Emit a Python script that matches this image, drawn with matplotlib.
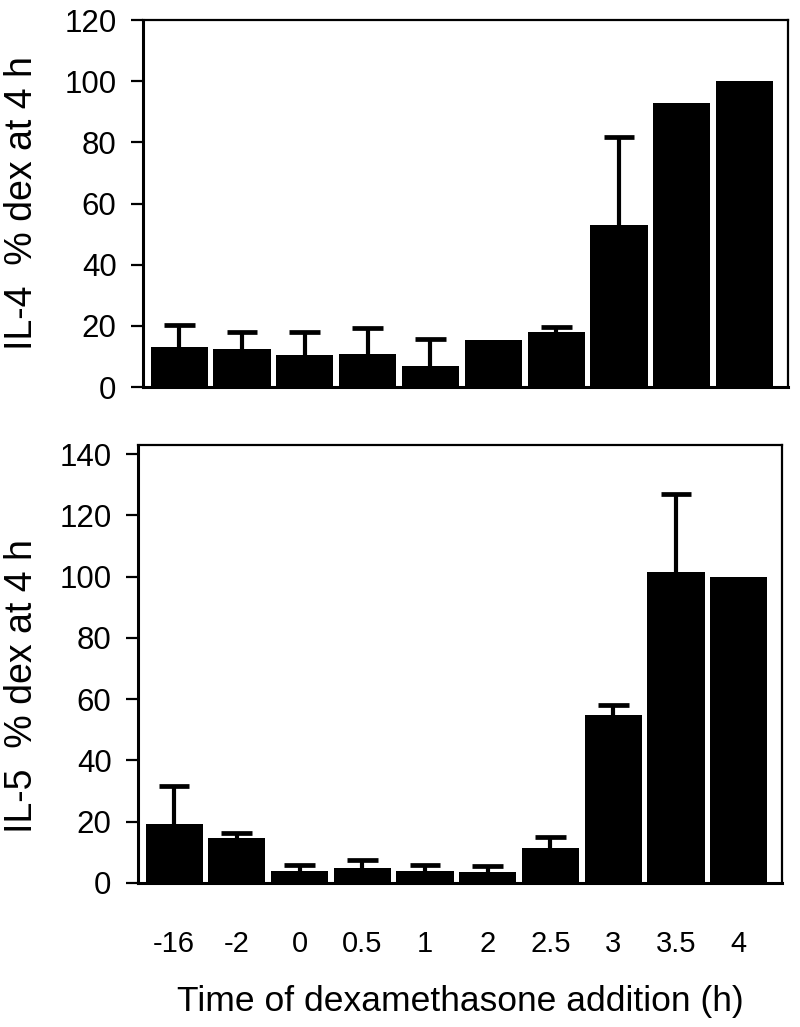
import matplotlib
matplotlib.use("Agg")
import matplotlib.pyplot as plt
import numpy as np

plt.rcParams['font.family'] = ['Liberation Sans', 'DejaVu Sans']

categories = ["-16", "-2", "0", "0.5", "1", "2", "2.5", "3", "3.5", "4"]

il4_values = [13.0, 12.4, 10.4, 10.7, 6.8, 15.3, 17.9, 53.1, 92.8, 100.0]
il4_err_top = [20.2, 17.9, 17.9, 19.2, 15.6, None, 19.5, 81.8, None, None]

il5_values = [19.2, 14.7, 4.0, 4.9, 3.9, 3.6, 11.4, 55.0, 101.4, 100.0]
il5_err_top = [31.7, 16.4, 5.9, 7.5, 5.9, 5.6, 15.0, 58.0, 126.9, None]

il4_ticks = [0, 20, 40, 60, 80, 100, 120]
il5_ticks = [0, 20, 40, 60, 80, 100, 120, 140]

W, H = 800, 1027
fig = plt.figure(figsize=(W / 100, H / 100), dpi=100)

def px_axes(left, right, top, bottom):
    return fig.add_axes([left / W, 1 - bottom / H, (right - left) / W, (bottom - top) / H])

ax1 = px_axes(143, 788, 20, 387)
ax2 = px_axes(138, 782, 445, 883)

def draw(ax, values, errs, ticks, ylim, ylabel, label_x, label_y, show_x):
    x = np.arange(len(values))
    ax.bar(x, values, width=0.91, color='black', edgecolor='none', zorder=2)
    ex = np.array([xi for xi, e in zip(x, errs) if e is not None])
    ev = np.array([v for v, e in zip(values, errs) if e is not None])
    et = np.array([e for e in errs if e is not None])
    ax.vlines(ex, ev, et, colors='black', linewidth=3.0, zorder=1)
    ax.hlines(et, ex - 0.245, ex + 0.245, colors='black', linewidth=3.4, zorder=1)
    ax.set_xlim(-0.575, len(values) - 1 + 0.69)
    ax.set_ylim(*ylim)
    ax.set_yticks(ticks)
    ax.set_yticklabels([str(t) for t in ticks], fontsize=22.5)
    ax.tick_params(axis='y', direction='out', length=9, width=1.6, pad=10)
    ax.tick_params(axis='x', length=0)
    if show_x:
        ax.set_xticks(x)
        ax.set_xticklabels(categories, fontsize=21)
        ax.tick_params(axis='x', pad=34)
        ax.set_xlabel("Time of dexamethasone addition (h)", fontsize=25.5, labelpad=19)
    else:
        ax.set_xticks([])
    for s in ax.spines.values():
        s.set_linewidth(1.6)
    ax.spines['left'].set_linewidth(2.2)
    ax.spines['bottom'].set_linewidth(2.2)
    ax.set_ylabel(ylabel, fontsize=27)
    ax.yaxis.set_label_coords(label_x, label_y)

draw(ax1, il4_values, il4_err_top, il4_ticks, (0, 120), "IL-4  % dex at 4 h", -0.160, 0.5, False)
draw(ax2, il5_values, il5_err_top, il5_ticks, (0, 143), "IL-5  % dex at 4 h", -0.152, 0.45, True)

fig.savefig("out.png", dpi=100)
